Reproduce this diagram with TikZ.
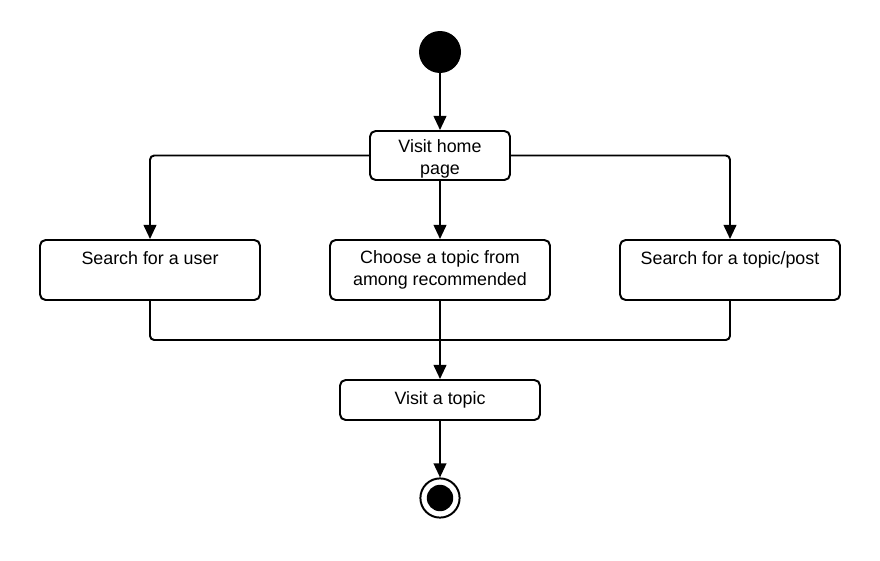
\documentclass[tikz,border=0pt]{standalone}
\usepackage{fontspec}
\setmainfont{Liberation Sans}
\usetikzlibrary{arrows.meta}
\tikzset{
	act/.style={draw,line width=1.4pt,rounded corners=4pt,align=center,inner sep=0pt},
	flow/.style={line width=1.4pt,rounded corners=3pt},
	arr/.style={flow,-{Triangle[width=9pt,length=10pt]}},
	txt/.style={anchor=north,inner sep=0pt,align=center,yshift=-0.3cm}
}
\begin{document}
\begin{tikzpicture}[font=\fontsize{12.7}{16}\selectfont]
\useasboundingbox (0,0) rectangle (22,-14);
\node[circle,fill=black,inner sep=0pt,minimum size=1.05cm] (start) at (11,-1.3) {};
\node[act,minimum width=3.5cm,minimum height=1.225cm,label={[txt,yshift=0.08cm]north:Visit home\\page}] (home) at (11,-3.8875) {};
\node[act,minimum width=5.5cm,minimum height=1.5cm,label={[txt]north:Search for a user}] (user) at (3.75,-6.75) {};
\node[act,minimum width=5.5cm,minimum height=1.5cm] (choose) at (11,-6.75) {Choose a topic from\\among recommended};
\node[act,minimum width=5.5cm,minimum height=1.5cm,label={[txt]north:Search for a topic/post}] (post) at (18.25,-6.75) {};
\node[act,minimum width=5cm,minimum height=1cm] (topic) at (11,-10) {Visit a topic};
\node[circle,draw,line width=1.4pt,fill=white,inner sep=0pt,minimum size=0.98cm] (end) at (11,-12.45) {};
\fill (end) circle (0.33cm);
\coordinate (merge) at (11,-8.5);
\draw[arr] (start) -- (home);
\draw[arr] (home.west) -| (user.north);
\draw[arr] (home) -- (choose);
\draw[arr] (home.east) -| (post.north);
\draw[flow] (user.south) |- (merge);
\draw[flow] (post.south) |- (merge);
\draw[arr] (choose) -- (topic);
\draw[arr] (topic) -- (end);
\end{tikzpicture}
\end{document}
